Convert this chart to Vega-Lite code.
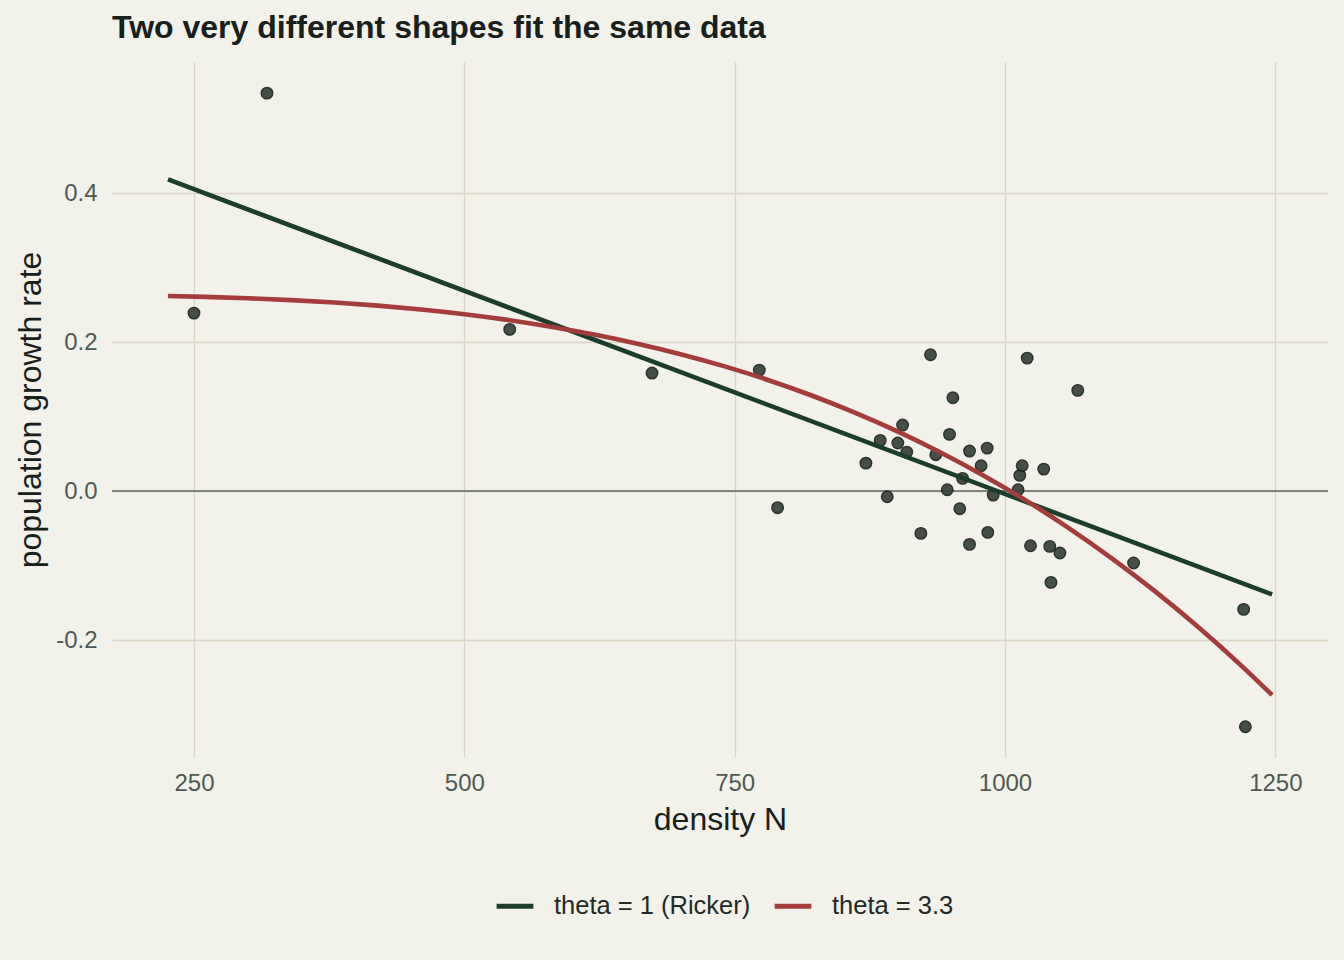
{
  "$schema": "https://vega.github.io/schema/vega-lite/v6.json",
  "width": 1216,
  "height": 695,
  "autosize": {"type": "none"},
  "padding": {"left": 112, "top": 62, "right": 16, "bottom": 203},
  "background": "#F2F1EA",
  "title": {
    "text": "Two very different shapes fit the same data",
    "anchor": "start",
    "frame": "group",
    "font": "Liberation Sans",
    "fontSize": 32,
    "fontWeight": "bold",
    "color": "#17201B",
    "offset": 17
  },
  "config": {
    "view": {"stroke": null},
    "axis": {
      "grid": true,
      "gridColor": "#D8D7C3",
      "gridWidth": 1.3,
      "domain": false,
      "ticks": false,
      "labelFont": "Liberation Sans",
      "labelFontSize": 24,
      "labelColor": "#4E5A52",
      "titleFont": "Liberation Sans",
      "titleFontSize": 32,
      "titleFontWeight": "normal",
      "titleColor": "#17201B"
    },
    "legend": {
      "labelFont": "Liberation Sans",
      "labelFontSize": 25.5,
      "labelColor": "#222A25",
      "labelLimit": 0
    }
  },
  "datasets": {
    "observations": [
      {"N": 250.0, "r": 0.2389},
      {"N": 317.5, "r": 0.5342},
      {"N": 542.0, "r": 0.2170},
      {"N": 673.6, "r": 0.1584},
      {"N": 772.8, "r": 0.1624},
      {"N": 789.7, "r": -0.0223},
      {"N": 871.4, "r": 0.0375},
      {"N": 884.6, "r": 0.0680},
      {"N": 891.1, "r": -0.0076},
      {"N": 900.9, "r": 0.0645},
      {"N": 905.3, "r": 0.0886},
      {"N": 909.2, "r": 0.0523},
      {"N": 922.2, "r": -0.0568},
      {"N": 931.1, "r": 0.1830},
      {"N": 936.0, "r": 0.0488},
      {"N": 946.6, "r": 0.0018},
      {"N": 948.7, "r": 0.0761},
      {"N": 951.8, "r": 0.1253},
      {"N": 958.2, "r": -0.0237},
      {"N": 960.8, "r": 0.0170},
      {"N": 967.2, "r": 0.0537},
      {"N": 967.2, "r": -0.0716},
      {"N": 977.9, "r": 0.0340},
      {"N": 983.5, "r": 0.0577},
      {"N": 984.1, "r": -0.0555},
      {"N": 989.1, "r": -0.0054},
      {"N": 1012.1, "r": 0.0018},
      {"N": 1013.7, "r": 0.0211},
      {"N": 1015.9, "r": 0.0340},
      {"N": 1020.5, "r": 0.1785},
      {"N": 1023.6, "r": -0.0734},
      {"N": 1035.8, "r": 0.0295},
      {"N": 1041.4, "r": -0.0743},
      {"N": 1042.5, "r": -0.1226},
      {"N": 1050.8, "r": -0.0832},
      {"N": 1067.3, "r": 0.1352},
      {"N": 1118.9, "r": -0.0966},
      {"N": 1220.7, "r": -0.1588},
      {"N": 1222.3, "r": -0.3164}
    ],
    "fits": [
      {"model": "theta = 1 (Ricker)", "N": 226, "r": 0.4184},
      {"model": "theta = 1 (Ricker)", "N": 1247, "r": -0.1387},
      {"model": "theta = 3.3", "N": 226, "r": 0.2618},
      {"model": "theta = 3.3", "N": 260, "r": 0.2607},
      {"model": "theta = 3.3", "N": 300, "r": 0.2588},
      {"model": "theta = 3.3", "N": 340, "r": 0.2563},
      {"model": "theta = 3.3", "N": 380, "r": 0.2531},
      {"model": "theta = 3.3", "N": 420, "r": 0.2489},
      {"model": "theta = 3.3", "N": 460, "r": 0.2437},
      {"model": "theta = 3.3", "N": 500, "r": 0.2374},
      {"model": "theta = 3.3", "N": 540, "r": 0.2298},
      {"model": "theta = 3.3", "N": 580, "r": 0.2207},
      {"model": "theta = 3.3", "N": 620, "r": 0.2102},
      {"model": "theta = 3.3", "N": 660, "r": 0.1979},
      {"model": "theta = 3.3", "N": 700, "r": 0.1838},
      {"model": "theta = 3.3", "N": 740, "r": 0.1677},
      {"model": "theta = 3.3", "N": 780, "r": 0.1495},
      {"model": "theta = 3.3", "N": 820, "r": 0.1290},
      {"model": "theta = 3.3", "N": 860, "r": 0.1060},
      {"model": "theta = 3.3", "N": 900, "r": 0.0805},
      {"model": "theta = 3.3", "N": 940, "r": 0.0522},
      {"model": "theta = 3.3", "N": 980, "r": 0.0210},
      {"model": "theta = 3.3", "N": 1020, "r": -0.0132},
      {"model": "theta = 3.3", "N": 1060, "r": -0.0507},
      {"model": "theta = 3.3", "N": 1100, "r": -0.0916},
      {"model": "theta = 3.3", "N": 1140, "r": -0.1360},
      {"model": "theta = 3.3", "N": 1180, "r": -0.1842},
      {"model": "theta = 3.3", "N": 1220, "r": -0.2363},
      {"model": "theta = 3.3", "N": 1247, "r": -0.2738}
    ]
  },
  "encoding": {
    "x": {
      "field": "N",
      "type": "quantitative",
      "title": "density N",
      "scale": {"domain": [174.2, 1298.7], "nice": false, "zero": false},
      "axis": {"values": [250, 500, 750, 1000, 1250], "format": "d", "labelPadding": 14, "titlePadding": 9}
    },
    "y": {
      "field": "r",
      "type": "quantitative",
      "title": "population growth rate",
      "scale": {"domain": [-0.357, 0.576], "nice": false, "zero": false},
      "axis": {
        "values": [-0.2, 0, 0.2, 0.4],
        "labelPadding": 15,
        "titlePadding": 8,
        "labelExpr": "datum.value < 0 ? '-' + format(-datum.value, '.1f') : format(datum.value, '.1f')"
      }
    }
  },
  "layer": [
    {
      "data": {"values": [{"r": 0}]},
      "mark": {"type": "rule", "color": "#5E6860", "strokeWidth": 1.4},
      "encoding": {"x": null}
    },
    {
      "data": {"name": "observations"},
      "mark": {
        "type": "circle",
        "size": 130,
        "fill": "#38413B",
        "stroke": "#1D231F",
        "strokeWidth": 1.5,
        "opacity": 0.92
      }
    },
    {
      "data": {"name": "fits"},
      "mark": {"type": "line", "strokeWidth": 4.6, "strokeCap": "butt", "interpolate": "monotone"},
      "encoding": {
        "color": {
          "field": "model",
          "type": "nominal",
          "scale": {"domain": ["theta = 1 (Ricker)", "theta = 3.3"], "range": ["#1C3D2A", "#A43C3C"]},
          "legend": {
            "title": null,
            "orient": "none",
            "legendX": 382,
            "legendY": 823,
            "direction": "horizontal",
            "symbolType": "stroke",
            "symbolStrokeWidth": 5,
            "symbolSize": 1350,
            "labelOffset": 18,
            "columnPadding": 13
          }
        }
      }
    }
  ]
}
